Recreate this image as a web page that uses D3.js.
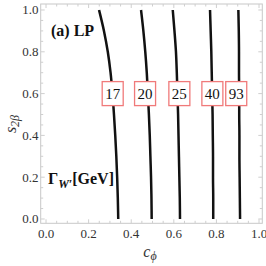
<!DOCTYPE html>
<html>
<head>
<meta charset="utf-8">
<script src="https://cdn.jsdelivr.net/npm/d3@7"></script>
<style>
  body { margin: 0; background: #fff; }
</style>
</head>
<body>
<div id="chart"></div>
<script>
var width = 266, height = 266;
var serif = "'Liberation Serif', 'Times New Roman', Times, 'DejaVu Serif', serif";

// contour widths (GeV) and the points: [c_phi, s_2beta]
var widths = ["17", "20", "25", "40", "93"];
var sVals = [1.0, 0.9, 0.8, 0.7, 0.6, 0.5, 0.4, 0.3, 0.2, 0.1, 0.0];
var c17 = [0.249, 0.272, 0.290, 0.303, 0.312, 0.319, 0.325, 0.330, 0.334, 0.337, 0.339];
var c20 = [0.446, 0.457, 0.466, 0.473, 0.478, 0.483, 0.487, 0.490, 0.493, 0.495, 0.496];
var c25 = [0.595, 0.603, 0.610, 0.614, 0.617, 0.620, 0.622, 0.624, 0.626, 0.628, 0.629];
var c40 = [0.770, 0.773, 0.776, 0.778, 0.780, 0.782, 0.783, 0.784, 0.784, 0.785, 0.785];
var c93 = [0.903, 0.905, 0.906, 0.906, 0.907, 0.907, 0.908, 0.908, 0.909, 0.910, 0.911];
var curves = [c17, c20, c25, c40, c93];
var labelS = 0.6;
var labelC = [0.313, 0.465, 0.626, 0.781, 0.893];

var xTicks = [0, 0.2, 0.4, 0.6, 0.8, 1.0];
var yTicks = [0, 0.2, 0.4, 0.6, 0.8, 1.0];

var frame = {left: 40.7, right: 262.3, top: 4, bottom: 223.3};

var x = d3.scaleLinear().domain([-0.025, 1.0154]).range([frame.left, frame.right]);
var y = d3.scaleLinear().domain([-0.0206, 1.0287]).range([frame.bottom, frame.top]);

var svg = d3.select("#chart").append("svg")
  .attr("width", width)
  .attr("height", height)
  .attr("font-family", serif);

// frame
svg.append("rect")
  .attr("x", frame.left).attr("y", frame.top)
  .attr("width", frame.right - frame.left)
  .attr("height", frame.bottom - frame.top)
  .attr("fill", "none")
  .attr("stroke", "#c8c8c8")
  .attr("stroke-width", 1);

// ticks, inward on all four sides
var minor = d3.range(0, 1.0001, 0.05);
var tickCol = "#cfcfcf";
minor.forEach(function(v) {
  var isMajor = Math.abs(v * 5 - Math.round(v * 5)) < 1e-6;
  var len = isMajor ? 4 : 2.5;
  var px = x(v), py = y(v);
  svg.append("line").attr("x1", px).attr("x2", px).attr("y1", frame.bottom).attr("y2", frame.bottom - len).attr("stroke", tickCol);
  svg.append("line").attr("x1", px).attr("x2", px).attr("y1", frame.top).attr("y2", frame.top + len).attr("stroke", tickCol);
  svg.append("line").attr("y1", py).attr("y2", py).attr("x1", frame.left).attr("x2", frame.left + len).attr("stroke", tickCol);
  svg.append("line").attr("y1", py).attr("y2", py).attr("x1", frame.right).attr("x2", frame.right - len).attr("stroke", tickCol);
});

// tick labels
svg.selectAll(".xt").data(xTicks).enter().append("text")
  .attr("x", function(d) { return x(d); })
  .attr("y", 238)
  .attr("text-anchor", "middle")
  .attr("font-family", serif)
  .attr("font-size", 13)
  .attr("fill", "#333")
  .text(function(d) { return d3.format(".1f")(d); });

svg.selectAll(".yt").data(yTicks).enter().append("text")
  .attr("x", 38.5)
  .attr("y", function(d) { return y(d) + 4.5; })
  .attr("text-anchor", "end")
  .attr("font-family", serif)
  .attr("font-size", 13)
  .attr("fill", "#333")
  .text(function(d) { return d3.format(".1f")(d); });

// axis labels
var xl = svg.append("text")
  .attr("x", 150).attr("y", 257)
  .attr("text-anchor", "middle")
  .attr("font-family", serif)
  .attr("font-size", 16)
  .attr("font-style", "italic")
  .attr("fill", "#333");
xl.append("tspan").text("c");
xl.append("tspan").attr("dy", 3).attr("font-size", 12).text("ϕ");

var yl = svg.append("text")
  .attr("transform", "translate(16,124) rotate(-90)")
  .attr("text-anchor", "middle")
  .attr("font-family", serif)
  .attr("font-size", 16)
  .attr("font-style", "italic")
  .attr("fill", "#333");
yl.append("tspan").text("s");
yl.append("tspan").attr("dy", 3).attr("font-size", 12).text("2β");

// contour lines
var line = d3.line()
  .x(function(d) { return x(d[0]); })
  .y(function(d) { return y(d[1]); })
  .curve(d3.curveMonotoneY);

curves.forEach(function(c) {
  var pts = c.map(function(v, i) { return [v, sVals[i]]; });
  svg.append("path")
    .attr("d", line(pts))
    .attr("fill", "none")
    .attr("stroke", "#111")
    .attr("stroke-width", 2.5);
});

// boxed labels
widths.forEach(function(w, i) {
  var cx = x(labelC[i]), cy = y(labelS);
  svg.append("rect")
    .attr("x", cx - 10.5).attr("y", cy - 12)
    .attr("width", 21).attr("height", 24)
    .attr("fill", "#fff")
    .attr("stroke", "#f07a7a")
    .attr("stroke-width", 1.3);
  svg.append("text")
    .attr("x", cx).attr("y", cy + 5)
    .attr("text-anchor", "middle")
    .attr("font-family", serif)
    .attr("font-size", 15)
    .attr("fill", "#111")
    .text(w);
});

// panel title and quantity
svg.append("text")
  .attr("x", 51).attr("y", 36)
  .attr("font-family", serif)
  .attr("font-size", 16)
  .attr("font-weight", "bold")
  .attr("fill", "#111")
  .text("(a) LP");

var g = svg.append("text")
  .attr("x", 48).attr("y", 184)
  .attr("font-family", serif)
  .attr("font-size", 16)
  .attr("font-weight", "bold")
  .attr("fill", "#111");
g.append("tspan").text("Γ");
g.append("tspan").attr("dy", 4).attr("font-size", 12).attr("font-style", "italic").text("W′");
g.append("tspan").attr("dy", -4).text("[GeV]");
</script>
</body>
</html>
